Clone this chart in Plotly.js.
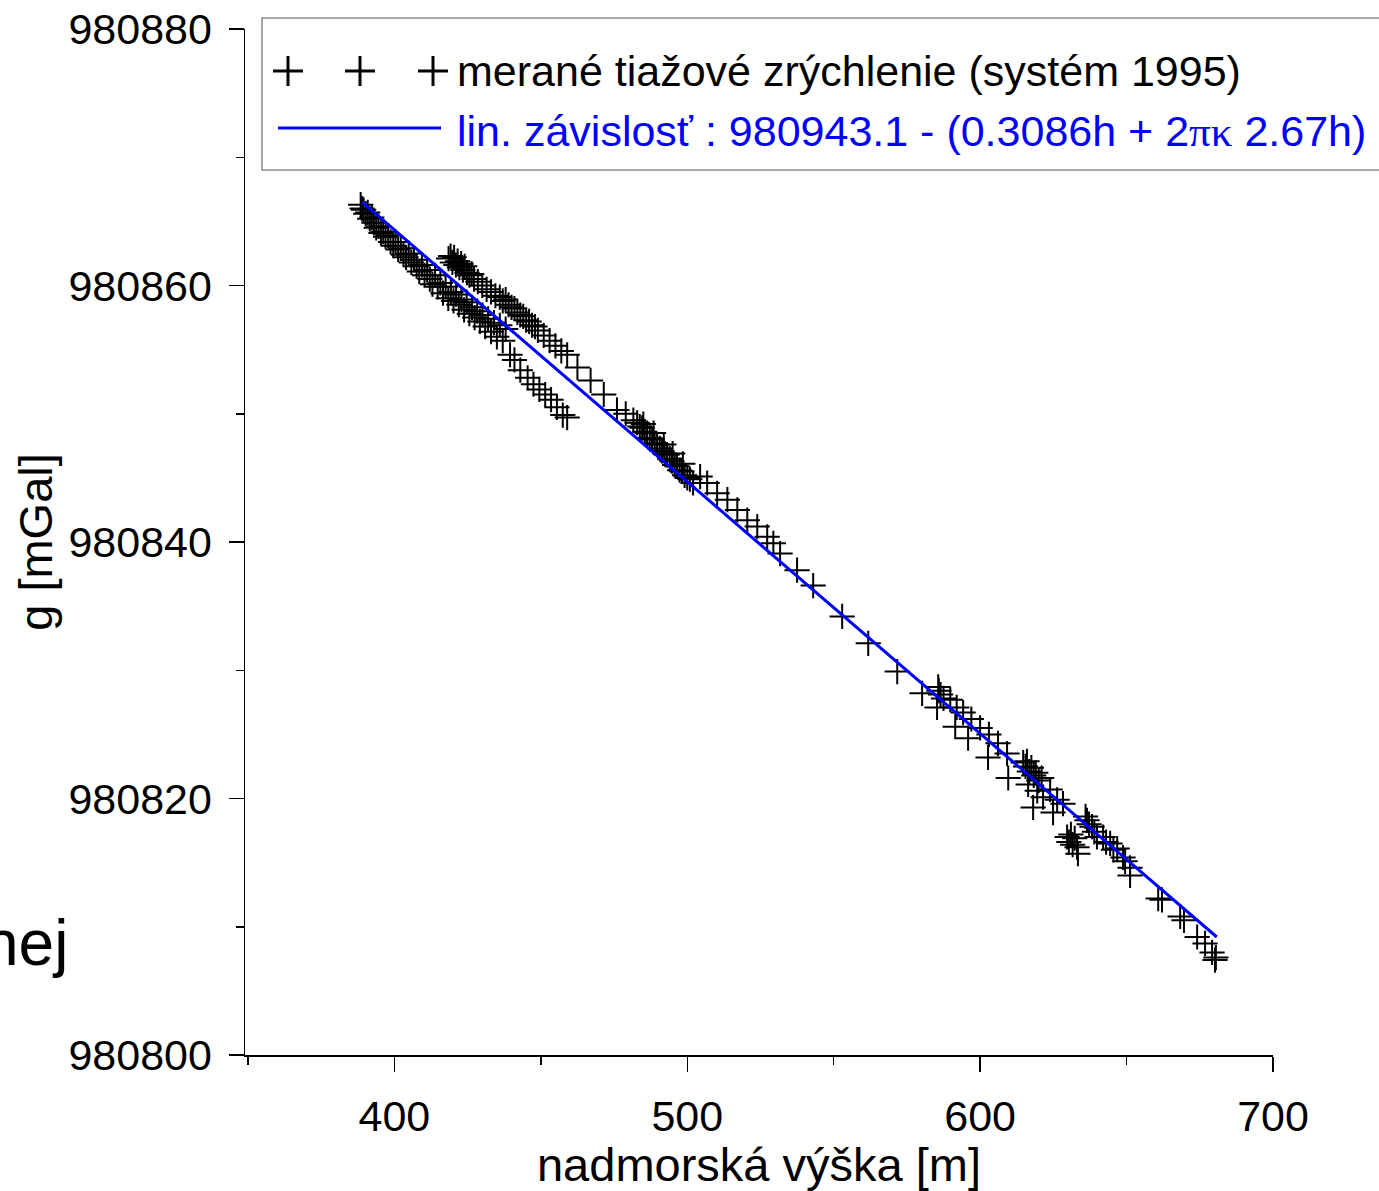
<!DOCTYPE html>
<html><head><meta charset="utf-8">
<script src="https://cdn.plot.ly/plotly-3.0.1.min.js"></script>
<style>html,body{margin:0;padding:0;background:#fff}#chart{width:1379px;height:1191px}</style>
</head><body><div id="chart"></div>
<script>
// measured gravity vs. altitude
const heightM = [
 388.5,389.0,389.5,390.2,390.9,391.6,392.3,393.0,393.8,394.6,395.4,396.2,397.0,397.9,398.7,399.6,400.4,401.3,402.2,403.1,
 404.0,404.9,405.8,406.7,407.6,408.5,409.4,410.3,411.2,412.1,413.0,413.9,414.8,415.7,416.6,417.5,418.4,419.3,420.2,421.1,
 422.0,422.9,423.8,424.7,425.6,426.5,427.4,428.3,429.2,430.1,431.0,432.0,433.0,434.0,435.0,436.0,437.0,438.0,
 439.5,441.0,443.0,445.5,447.5,449.5,451.5,453.5,455.5,457.5,459.0,
 418.5,419.2,419.8,420.4,421.0,421.6,422.2,422.8,423.4,424.0,424.8,425.6,426.4,427.2,
 428.5,430.0,431.5,433.0,434.5,
 436.0,437.0,438.0,439.0,440.0,441.0,442.0,443.0,444.0,445.0,446.0,447.0,448.0,449.0,
 451.0,453.0,455.0,457.0,459.0,462.5,467.0,471.5,476.0,479.0,481.6,
 482.9,483.8,484.6,485.5,486.3,487.2,488.0,488.9,489.7,490.6,491.4,492.3,493.1,494.0,494.8,495.7,496.5,497.4,498.2,499.1,500.0,500.9,502.0,
 485.0,488.5,492.0,495.0,498.5,
 504.4,506.8,510.2,513.7,517.1,520.5,523.9,527.3,529.4,531.7,537.5,543.0,552.9,561.8,571.7,580.2,
 585.7,585.9,586.5,585.3,587.5,589.8,591.5,592.0,594.2,595.9,597.0,600.0,602.7,603.0,606.1,609.2,609.6,
 614.7,615.5,616.0,616.8,617.5,618.3,619.0,620.0,621.0,616.4,618.1,619.5,621.5,623.9,626.3,624.9,628.3,
 629.7,630.3,631.0,631.6,632.3,633.1,633.4,636.5,636.0,637.2,638.2,639.0,639.9,642.0,643.0,644.4,645.5,646.8,648.8,649.5,651.2,651.2,
 660.8,662.1,668.3,669.6,674.1,676.8,679.2,680.5,680.2
];
const gMeasured = [
 980866.3,980866.0,980865.9,980865.6,980865.7,980865.2,980865.3,980864.9,980864.5,980864.6,980864.1,980864.2,980863.8,980863.9,980863.4,980863.1,980863.4,980862.8,980862.9,980862.4,
 980862.2,980862.5,980861.8,980862.0,980861.5,980861.1,980861.6,980860.8,980861.2,980860.5,980860.1,980860.8,980859.9,980860.2,980859.4,980859.9,980859.0,980859.5,980858.8,980859.3,
 980858.5,980858.9,980858.1,980858.7,980857.8,980858.3,980857.5,980858.0,980857.2,980857.7,980856.8,980857.4,980856.4,980857.1,980856.0,980856.9,980855.7,980856.6,
 980854.6,980854.2,980853.4,980852.8,980852.3,980851.9,980851.5,980851.1,980850.5,980849.9,980849.7,
 980862.1,980862.3,980861.8,980862.2,980861.6,980861.9,980861.4,980861.7,980861.2,980861.5,980861.0,980860.8,980860.9,980860.5,
 980860.3,980860.0,980859.7,980859.5,980859.2,
 980859.1,980858.8,980858.9,980858.5,980858.3,980858.2,980857.9,980857.7,980857.6,980857.3,980857.2,980856.9,980856.8,980856.5,
 980856.1,980855.7,980855.3,980854.9,980854.6,980853.6,980852.6,980851.5,980850.3,980850.0,980849.5,
 980849.3,980849.0,980848.9,980848.6,980848.5,980848.1,980848.0,980847.7,980847.6,980847.3,980847.1,980846.9,980846.8,980846.5,980846.3,980846.0,980845.9,980845.6,980845.5,980845.2,980845.0,980844.9,980844.6,
 980849.2,980848.5,980847.6,980846.9,980846.1,
 980845.1,980844.6,980843.8,980843.3,980842.5,980841.7,980841.2,980840.4,980839.9,980839.1,980837.8,980836.6,980834.2,980832.1,980829.9,980828.2,
 980828.7,980828.4,980828.1,980827.1,980827.8,980827.7,980825.6,980827.1,980826.7,980824.7,980826.2,980825.5,980823.2,980825.0,980824.3,980823.5,980821.6,
 980822.8,980822.5,980822.9,980822.1,980822.4,980821.8,980822.0,980821.4,980821.6,980821.1,980819.3,980820.6,980820.1,980820.7,980819.9,980818.9,980819.6,
 980817.0,980816.6,980817.2,980816.4,980816.9,980816.2,980815.7,980818.3,980818.6,980818.0,980817.8,980817.4,980817.0,980817.0,980816.6,980816.5,980816.0,980816.1,980815.4,980815.1,980814.6,980814.0,
 980812.2,980812.1,980810.8,980810.5,980809.2,980808.7,980808.0,980807.6,980807.4
];
// linear dependence (fitted line) endpoints
const fitH = [389.0, 680.8];
const fitG = [980866.5, 980809.2];

const measuredName = 'merané tiažové zrýchlenie (systém 1995)';
const fitName = 'lin. závislosť : 980943.1 - (0.3086h + 2<span style="font-family:\'Liberation Serif\',serif">πκ</span> 2.67h)';
const xTitle = 'nadmorská výška [m]';
const yTitle = 'g [mGal]';

const FONT = 'Liberation Sans, Arial, sans-serif';

// paper helpers (plot area: left 245, right 1273, top 29, bottom 1055)
const L = 245, R = 1273, T = 29, B = 1055;
const px = v => (v - L) / (R - L);
const py = v => (B - v) / (B - T);

const traces = [
  { type: 'scatter', mode: 'markers', name: measuredName, x: heightM, y: gMeasured,
    marker: { symbol: 'cross-thin', size: 18, color: '#000', line: { color: '#000', width: 2 } },
    showlegend: false, hoverinfo: 'x+y' },
  { type: 'scatter', mode: 'lines', name: 'lin. závislosť', x: fitH, y: fitG,
    line: { color: '#0000ff', width: 3 }, showlegend: false }
];

const shapes = [
  { type: 'rect', xref: 'paper', yref: 'paper', x0: px(262), x1: px(1420), y0: py(170), y1: py(18),
    line: { color: '#8c8c8c', width: 1.5 }, fillcolor: 'rgba(255,255,255,1)', layer: 'below' },
  { type: 'line', xref: 'paper', yref: 'paper', x0: px(278), x1: px(441), y0: py(128), y1: py(128),
    line: { color: '#0000ff', width: 3 } }
];
[288, 360, 433].forEach(cx => {
  shapes.push({ type: 'line', xref: 'paper', yref: 'paper', x0: px(cx - 15), x1: px(cx + 15), y0: py(71), y1: py(71), line: { color: '#000', width: 3 } });
  shapes.push({ type: 'line', xref: 'paper', yref: 'paper', x0: px(cx), x1: px(cx), y0: py(56), y1: py(86), line: { color: '#000', width: 3 } });
});

const annotations = [
  { xref: 'paper', yref: 'paper', x: px(455), y: py(71), xanchor: 'left', yanchor: 'middle', showarrow: false,
    text: measuredName, font: { family: FONT, size: 43, color: '#000' } },
  { xref: 'paper', yref: 'paper', x: px(455), y: py(131), xanchor: 'left', yanchor: 'middle', showarrow: false,
    text: fitName, font: { family: FONT, size: 43, color: '#0000ff' } },
  { xref: 'paper', yref: 'paper', x: px(70), y: py(943), xanchor: 'right', yanchor: 'middle', showarrow: false,
    text: 'nej', font: { family: FONT, size: 64, color: '#000' } }
];

const axisCommon = {
  showline: true, linecolor: '#000', linewidth: 1.5, showgrid: false, zeroline: false,
  ticks: 'outside', ticklen: 15, tickwidth: 1.5, tickcolor: '#000',
  tickfont: { family: FONT, size: 43, color: '#000' }
};

const layout = {
  width: 1379, height: 1191,
  margin: { l: L, r: 1379 - R, t: T, b: 1191 - B, autoexpand: false },
  paper_bgcolor: '#fff', plot_bgcolor: '#fff',
  font: { family: FONT, color: '#000' },
  showlegend: false,
  xaxis: Object.assign({}, axisCommon, {
    range: [349, 700], tick0: 0, dtick: 100, ticklabelstandoff: 8,
    minor: { dtick: 50, tick0: 0, ticks: 'outside', ticklen: 8, tickwidth: 1.5, tickcolor: '#000' },
    title: { text: xTitle, font: { family: FONT, size: 47, color: '#000' }, standoff: 2 }
  }),
  yaxis: Object.assign({}, axisCommon, {
    range: [980800, 980880], tick0: 980800, dtick: 20, tickformat: 'd', ticklabelstandoff: 8,
    minor: { dtick: 10, tick0: 980800, ticks: 'outside', ticklen: 8, tickwidth: 1.5, tickcolor: '#000' },
    title: { text: yTitle, font: { family: FONT, size: 47, color: '#000' }, standoff: 1 }
  }),
  shapes: shapes,
  annotations: annotations
};

Plotly.newPlot('chart', traces, layout, { staticPlot: true, displayModeBar: false });
</script>
</body></html>
